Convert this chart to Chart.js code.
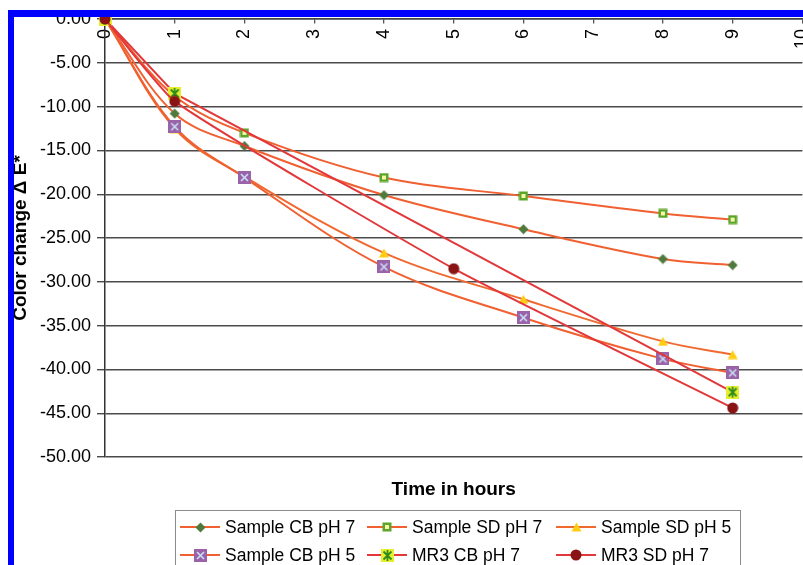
<!DOCTYPE html>
<html><head><meta charset="utf-8">
<script src="https://cdn.jsdelivr.net/npm/chart.js@4"></script>
<style>
html,body{margin:0;padding:0;background:#fff;overflow:hidden;width:803px;height:565px}
#wrap{position:relative;width:803px;height:565px;overflow:hidden;background:#fff}
canvas{position:absolute;left:0;top:0}
#frame{position:absolute;left:8px;top:10px;width:2000px;height:2000px;border-left:6px solid #0000ff;border-top:7px solid #0000ff;pointer-events:none}
</style></head><body>
<div id="wrap"><canvas id="c" width="830" height="565"></canvas><div id="frame"></div></div>
<script>
// ---- data ----
const seriesNames = ['Sample CB pH 7','Sample SD pH 7','Sample SD pH 5','Sample CB pH 5','MR3 CB pH 7','MR3 SD pH 7'];
const sampleHours = [0, 1, 2, 4, 6, 8, 9];
const sampleCbPh7 = [0, -10.8, -14.5, -20.1, -24.0, -27.4, -28.1];
const sampleSdPh7 = [0, -8.8, -13.0, -18.1, -20.2, -22.2, -22.9];
const sampleSdPh5 = [0, -12.5, -18.0, -26.7, -32.0, -36.8, -38.3];
const sampleCbPh5 = [0, -12.3, -18.1, -28.3, -34.1, -38.8, -40.4];
const mr3CbHours = [0, 1, 9];
const mr3CbPh7 = [0, -8.5, -42.6];
const mr3SdHours = [0, 1, 5, 9];
const mr3SdPh7 = [0, -9.4, -28.5, -44.4];
const xTicks = [0,1,2,3,4,5,6,7,8,9,10];
const yTicks = [0,-5,-10,-15,-20,-25,-30,-35,-40,-45,-50];
const xTitle = 'Time in hours';
const yTitle = 'Color change \u0394 E*';

const FONT = '"Liberation Sans", Arial, sans-serif';

// ---- marker images ----
function mk(w, h, draw){ const c = document.createElement('canvas'); c.width = w; c.height = h; draw(c.getContext('2d'), w, h); return c; }
const markers = [
  mk(11, 11, (g) => { g.fillStyle = '#4e7a3c'; g.beginPath(); g.moveTo(5.5,0.5); g.lineTo(10.5,5.5); g.lineTo(5.5,10.5); g.lineTo(0.5,5.5); g.closePath(); g.fill(); }),
  mk(10, 10, (g) => { g.fillStyle = '#5da52a'; g.fillRect(0.5,0.5,9,9); g.fillStyle = '#f7f7a8'; g.fillRect(3,3,4,4); }),
  mk(11, 10, (g) => { g.fillStyle = '#ffcc11'; g.beginPath(); g.moveTo(5.5,0.5); g.lineTo(10.5,9.5); g.lineTo(0.5,9.5); g.closePath(); g.fill(); }),
  mk(13, 13, (g) => { g.fillStyle = '#9a62a8'; g.fillRect(0,0,13,13); g.strokeStyle = '#c9e2f6'; g.lineWidth = 1.6; g.beginPath(); g.moveTo(3,3); g.lineTo(10,10); g.moveTo(10,3); g.lineTo(3,10); g.stroke(); }),
  mk(13, 13, (g) => { g.fillStyle = '#e6ef2c'; g.fillRect(0,0,13,13); g.strokeStyle = '#2f8a1f'; g.lineWidth = 1.8; g.beginPath(); g.moveTo(2.5,2.5); g.lineTo(10.5,10.5); g.moveTo(10.5,2.5); g.lineTo(2.5,10.5); g.moveTo(6.5,1); g.lineTo(6.5,12); g.stroke(); }),
  mk(12, 12, (g) => { g.fillStyle = '#8a1414'; g.beginPath(); g.arc(6,6,5.5,0,Math.PI*2); g.fill(); })
];

function pts(xs, ys){ return xs.map((x, i) => ({x: x, y: ys[i]})); }
const seriesData = [
  pts(sampleHours, sampleCbPh7),
  pts(sampleHours, sampleSdPh7),
  pts(sampleHours, sampleSdPh5),
  pts(sampleHours, sampleCbPh5),
  pts(mr3CbHours, mr3CbPh7),
  pts(mr3SdHours, mr3SdPh7)
];
const lineColors = ['#f06030','#f06030','#f06a30','#f06030','#e2383a','#e2383a'];
const tensions = [0.35, 0.35, 0.35, 0.35, 0, 0.15];

const datasets = seriesData.map((d, i) => ({
  label: seriesNames[i],
  data: d,
  borderColor: lineColors[i],
  borderWidth: 2,
  tension: tensions[i],
  pointStyle: markers[i],
  pointRadius: 5,
  clip: false,
  order: 5 - i
}));

const legendPlugin = {
  id: 'customLegend',
  afterDraw(chart) {
    const ctx = chart.ctx;
    const ca = chart.chartArea;
    ctx.save();
    ctx.fillStyle = '#000';
    ctx.font = 'bold 19px ' + FONT;
    ctx.textAlign = 'center';
    ctx.textBaseline = 'middle';
    ctx.fillText(xTitle, (ca.left + ca.right) / 2, ca.bottom + 33);
    // legend box
    ctx.strokeStyle = '#8c8c8c';
    ctx.lineWidth = 1;
    ctx.strokeRect(175.5, ca.bottom + 53.5, 565, 90);
    const symX = [180, 367, 556];
    const txtX = [225, 412, 601];
    const rowY = [ca.bottom + 70, ca.bottom + 98];
    ctx.font = '17.5px ' + FONT;
    ctx.textAlign = 'left';
    datasets.forEach((ds, i) => {
      const col = i % 3, row = Math.floor(i / 3);
      const y = rowY[row];
      ctx.strokeStyle = ds.borderColor;
      ctx.lineWidth = 2;
      ctx.beginPath();
      ctx.moveTo(symX[col], y);
      ctx.lineTo(symX[col] + 40, y);
      ctx.stroke();
      const m = ds.pointStyle;
      ctx.drawImage(m, Math.round(symX[col] + 20 - m.width / 2), Math.round(y - m.height / 2));
      ctx.fillStyle = '#000';
      ctx.fillText(ds.label, txtX[col], y + 1);
    });
    ctx.restore();
  }
};

new Chart(document.getElementById('c'), {
  type: 'line',
  data: { datasets: datasets },
  plugins: [legendPlugin],
  options: {
    responsive: false,
    animation: false,
    events: [],
    layout: { padding: { top: 19, bottom: 108, left: 0, right: 25 } },
    plugins: { legend: { display: false }, title: { display: false }, tooltip: { enabled: false } },
    scales: {
      x: {
        type: 'linear',
        position: { y: 0 },
        min: 0, max: 10,
        afterBuildTicks: (s) => { s.ticks = xTicks.map(v => ({ value: v })); },
        afterFit: (s) => { s.height = 0; },
        ticks: { color: '#000', font: { size: 18, family: FONT }, minRotation: 90, maxRotation: 90, padding: 6, callback: (v) => String(v) },
        grid: { display: true, drawOnChartArea: false, drawTicks: true, tickLength: 4, color: '#555', lineWidth: 1.3 },
        border: { display: true, color: '#444', width: 1.5 }
      },
      y: {
        type: 'linear',
        position: 'left',
        min: -50, max: 0,
        afterBuildTicks: (s) => { s.ticks = yTicks.map(v => ({ value: v })); },
        afterFit: (s) => { s.width = 105; },
        ticks: { color: '#000', font: { size: 18, family: FONT }, padding: 6, callback: (v) => Number(v).toFixed(2) },
        grid: { color: '#4a4a4a', lineWidth: 1.4, tickLength: 8, drawTicks: true },
        border: { display: true, color: '#333', width: 1.5 },
        title: { display: true, text: yTitle, color: '#000', font: { size: 19, weight: 'bold', family: FONT }, padding: { top: 9.5, bottom: 0 } }
      }
    }
  }
});
</script>
</body></html>
